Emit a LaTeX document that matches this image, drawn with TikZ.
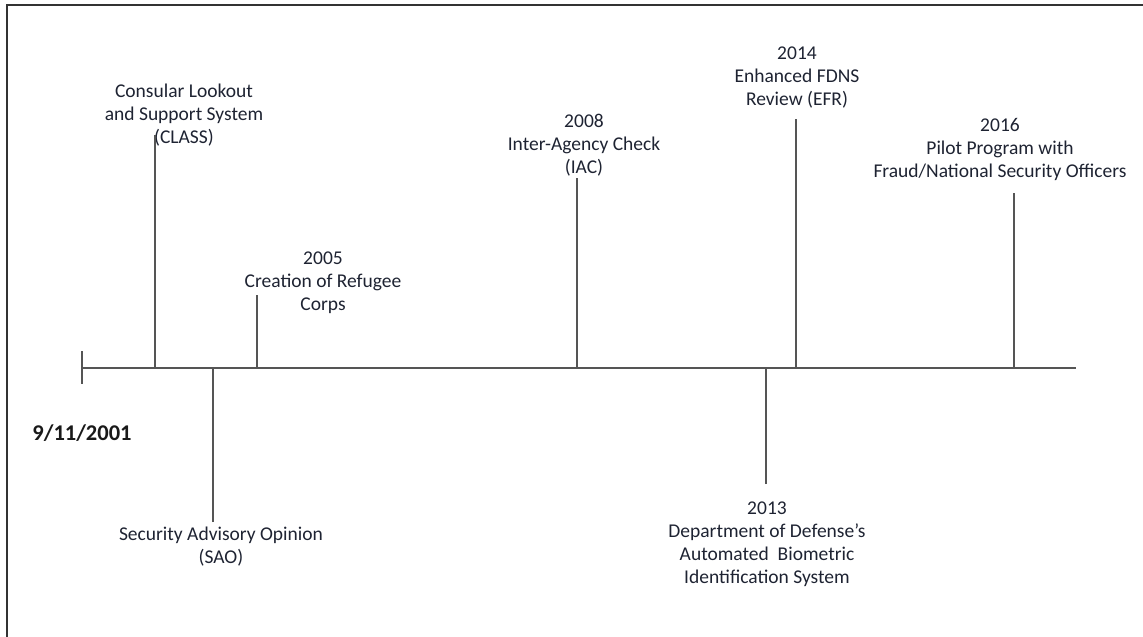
\documentclass[tikz,border=0pt]{standalone}
\usepackage{fontspec}
\setmainfont{Carlito}
\usetikzlibrary{positioning}
\definecolor{labeltext}{RGB}{30,35,50}
\definecolor{ticklines}{RGB}{85,85,85}
\tikzset{
  eventnode/.style={align=center, inner sep=0pt, text=labeltext, font=\fontsize{19.5}{23}\selectfont},
  datenode/.style={inner sep=0pt, text=black!90, font=\fontsize{22.5}{26}\selectfont\bfseries},
  axisline/.style={draw=ticklines, line width=1.5pt},
  tickline/.style={draw=ticklines, line width=1.4pt},
  framebox/.style={draw=black!80, line width=2.5pt}
}
\begin{document}
\begin{tikzpicture}[x=1pt, y=-1pt]
\useasboundingbox (0,0) rectangle (1143,637);

% Frame
\draw[framebox] (7,637) -- (7,5) -- (1143,5);

% Nodes
\node[datenode] (start) at (82,433) {9/11/2001};
\node[eventnode] (CLASS) at (184,115) {Consular Lookout\\and Support System\\(CLASS)};
\node[eventnode] (SAO) at (221,547) {Security Advisory Opinion\\(SAO)};
\node[eventnode] (RC) at (323,283) {2005\\Creation of Refugee\\Corps};
\node[eventnode] (IAC) at (584,145) {2008\\Inter-Agency Check\\(IAC)};
\node[eventnode] (ABIS) at (767,544) {2013\\Department of Defense’s\\Automated~ Biometric\\Identification System};
\node[eventnode] (EFR) at (797,78) {2014\\Enhanced FDNS\\Review (EFR)};
\node[eventnode] (PP) at (1000,149) {2016\\Pilot Program with\\Fraud/National Security Officers};

% Axis
\coordinate (a0) at (82,368);
\coordinate (a1) at (1076,368);
\draw[axisline] (a0) -- (a1);
\draw[tickline] (82,351) coordinate (s0) -- (82,384) coordinate (s1);

% Tick ends
\coordinate (CLASSend) at (155,135);
\coordinate (SAOend) at (213,522);
\coordinate (RCend) at (257,295);
\coordinate (IACend) at (577,178);
\coordinate (ABISend) at (766,484);
\coordinate (EFRend) at (796,119);
\coordinate (PPend) at (1014,193);

% Connections
\foreach \ev in {CLASS, SAO, RC, IAC, ABIS, EFR, PP}
  \draw[tickline] (\ev end) -- (\ev end |- a0);

\end{tikzpicture}
\end{document}
